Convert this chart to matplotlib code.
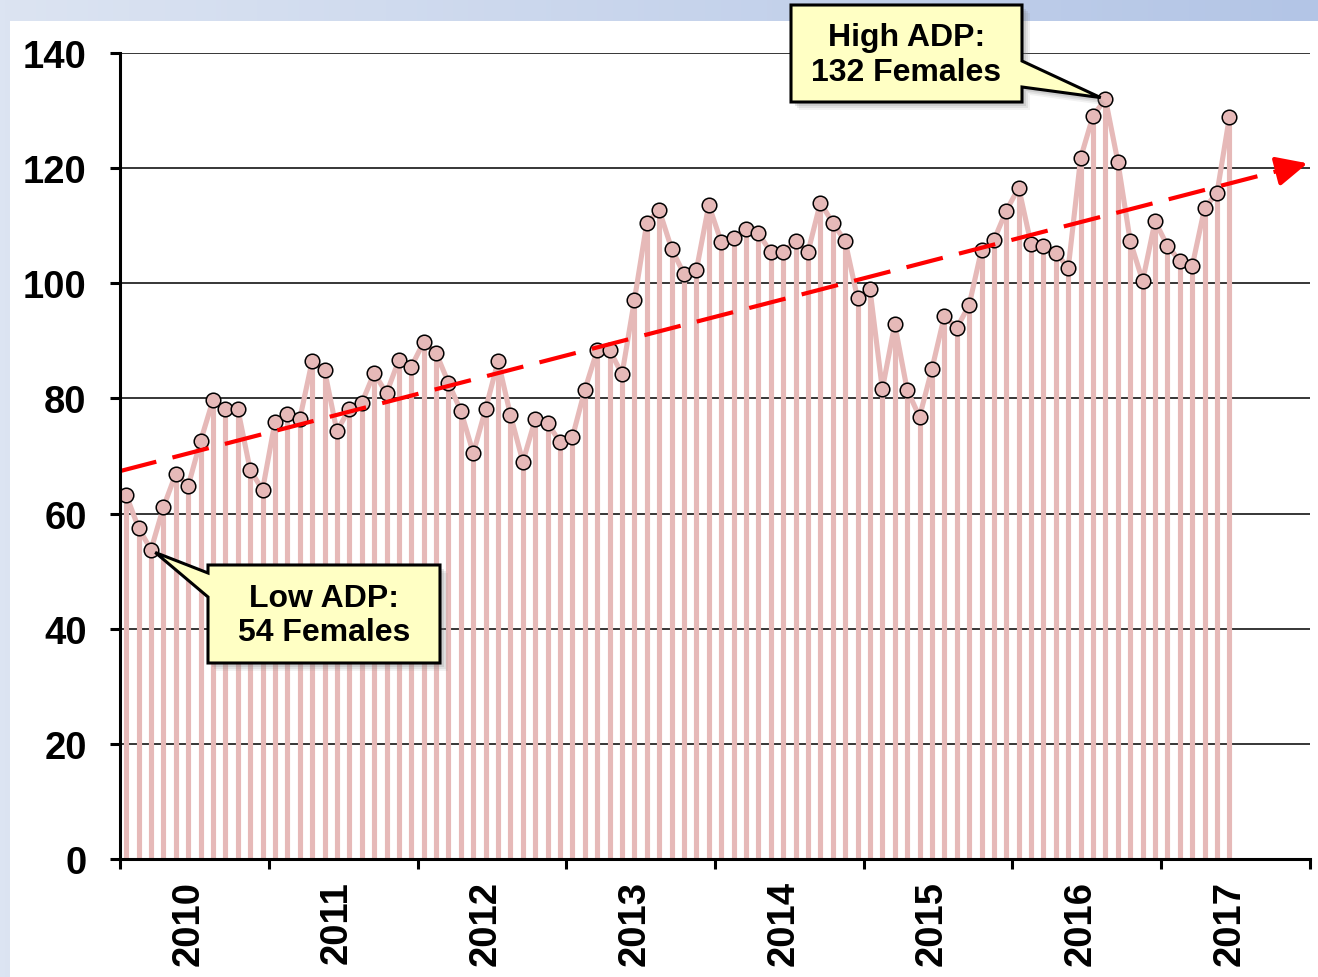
import numpy as np
import matplotlib
matplotlib.use('Agg')
import matplotlib.pyplot as plt
from matplotlib.patches import Polygon, Rectangle
import matplotlib.colors as mcolors

# ---------------- data ----------------
years = ['2010', '2011', '2012', '2013', '2014', '2015', '2016', '2017']
adp = [63.2, 57.5, 53.7, 61.1, 66.9, 64.8, 72.6, 79.7, 78.2, 78.2, 67.6, 64.1,
       75.9, 77.3, 76.4, 86.5, 84.9, 74.3, 78.2, 79.2, 84.4, 80.9, 86.7, 85.5,
       89.8, 87.9, 82.7, 77.8, 70.5, 78.2, 86.5, 77.1, 69.0, 76.4, 75.7, 72.4,
       73.3, 81.5, 88.4, 88.4, 84.2, 97.1, 110.5, 112.7, 106.0, 101.6, 102.3, 113.6,
       107.2, 107.9, 109.4, 108.7, 105.4, 105.4, 107.3, 105.4, 114.0, 110.5, 107.3, 97.4,
       99.0, 81.6, 92.9, 81.5, 76.8, 85.1, 94.3, 92.2, 96.2, 105.8, 107.5, 112.6,
       116.6, 106.8, 106.5, 105.3, 102.7, 121.8, 129.1, 132.0, 121.1, 107.3, 100.4, 110.8,
       106.5, 103.9, 103.0, 113.1, 115.7, 128.9]
y_ticks = [0, 20, 40, 60, 80, 100, 120, 140]
low_label = 'Low ADP:\n54 Females'
high_label = 'High ADP:\n132 Females'

# ---------------- style ----------------
W, H = 1318, 978
PINK = '#E6B9B8'
FONT = 'Liberation Sans'
plt.rcParams['font.family'] = [FONT, 'DejaVu Sans']

fig = plt.figure(figsize=(W / 100, H / 100), dpi=100)

# background gradient + white panel
bg = fig.add_axes([0, 0, 1, 1], zorder=-10)
bg.set_xlim(0, W)
bg.set_ylim(H, 0)
bg.axis('off')
c1 = np.array(mcolors.to_rgb('#DCE4F2'))
c2 = np.array(mcolors.to_rgb('#B3C5E6'))
t = np.linspace(0, 1, 256)
grad = (c1[None, :] * (1 - t[:, None]) + c2[None, :] * t[:, None])[None, :, :]
bg.imshow(grad, extent=(0, W, H, 0), aspect='auto')
bg.add_patch(Rectangle((10, 22), W - 10, H - 22, fc='white', ec='none'))

# main axes
ax = fig.add_axes([120 / W, (H - 860) / H, 1190 / W, 806 / H])
ax.set_facecolor('none')
idx = np.arange(len(adp))
ax.set_xlim(-0.5, 12 * len(years) - 0.5)
ax.set_ylim(0, 140)

ax.set_yticks(y_ticks)
ax.set_yticklabels([str(v) for v in y_ticks], fontsize=27.5, fontweight='bold')
ax.yaxis.grid(True, color='black', lw=1.1)
ax.set_axisbelow(True)
ax.tick_params(axis='y', length=7, width=2.2, direction='out', pad=17)

ax.set_xticks(np.arange(-0.5, 12 * len(years), 12))
ax.set_xticklabels([])
ax.tick_params(axis='x', which='major', length=7, width=2.2, direction='out')
ax.set_xticks(np.arange(5, 12 * len(years), 12), minor=True)
ax.set_xticklabels(years, minor=True, rotation=90, fontsize=27.5, fontweight='bold')
ax.tick_params(axis='x', which='minor', length=0, pad=15)
for lab in ax.get_xticklabels(minor=True):
    lab.set_verticalalignment('top')

for s in ['top', 'right']:
    ax.spines[s].set_visible(False)
for s in ['left', 'bottom']:
    ax.spines[s].set_linewidth(2.2)
    ax.spines[s].set_zorder(6)

# drop lines, line, markers
ax.vlines(idx, 0, adp, colors=PINK, lw=3.7, zorder=2)
ax.plot(idx, adp, color=PINK, lw=3.7, marker='o', ms=10.5, mfc=PINK,
        mec='black', mew=1.1, zorder=3)

# trend line
coef = np.polyfit(idx, adp, 1)
x_end = 95.3
xt = np.array([-0.5, x_end - 1.7])
ax.plot(xt, np.polyval(coef, xt), color='red', lw=3, dashes=(9, 4), zorder=4)
ax.annotate('', xy=(x_end, np.polyval(coef, x_end)),
            xytext=(x_end - 1.8, np.polyval(coef, x_end - 1.8)),
            arrowprops=dict(arrowstyle='-|>,head_length=0.95,head_width=0.45',
                            color='red', lw=3, mutation_scale=20,
                            shrinkA=0, shrinkB=0), zorder=4)

# callouts
ov = fig.add_axes([0, 0, 1, 1], zorder=20)
ov.set_xlim(0, W)
ov.set_ylim(H, 0)
ov.axis('off')
ov.patch.set_alpha(0)


def to_img(x, y):
    d = ax.transData.transform((x, y))
    return d[0], H - d[1]


def callout(L, T, R, B, side, b1, b2, pt, text):
    px, py = pt
    bx = L if side == 'left' else R
    by = (b1 + b2) / 2
    v = np.array([bx - px, by - py])
    v = v / np.hypot(*v)
    tip = (px + v[0] * 5, py + v[1] * 5)
    if side == 'left':
        verts = [(L, T), (R, T), (R, B), (L, B), (L, b2), tip, (L, b1)]
    else:
        verts = [(L, T), (R, T), (R, b1), tip, (R, b2), (R, B), (L, B)]
    for off, a in [(8, 0.10), (6, 0.15), (4, 0.2)]:
        sv = [(x + off, y + off) for x, y in verts]
        ov.add_patch(Polygon(sv, closed=True, fc='#808080', ec='none', alpha=a))
    ov.add_patch(Polygon(verts, closed=True, fc='#FFFFC4', ec='black', lw=2.2,
                         joinstyle='miter'))
    ov.text((L + R) / 2, (T + B) / 2 + 1, text, ha='center', va='center',
            fontsize=23, fontweight='bold', linespacing=1.18,
            multialignment='center')


i_min = int(np.argmin(adp))
i_max = int(np.argmax(adp))
callout(208, 566, 440, 664, 'left', 574, 598, to_img(i_min, adp[i_min]), low_label)
callout(791, 6, 1022, 103, 'right', 62, 88, to_img(i_max, adp[i_max]), high_label)

fig.savefig('out.png', dpi=100)
